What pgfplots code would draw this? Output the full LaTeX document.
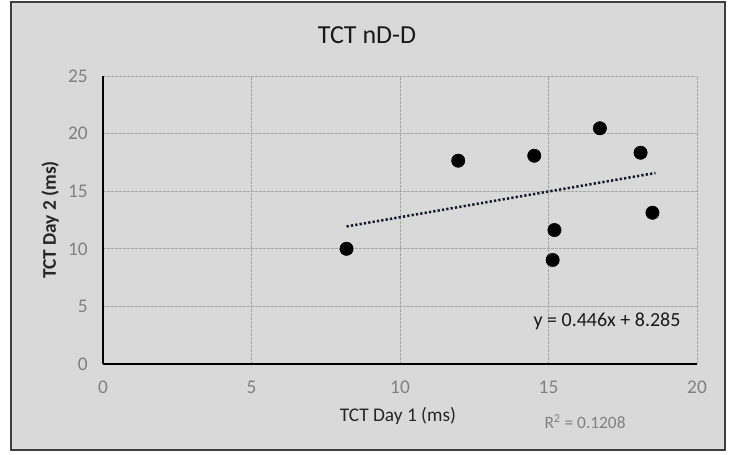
\documentclass[border=0pt]{standalone}
\usepackage{pgfplots}
\pgfplotsset{compat=1.18}
\usepackage{fontspec}
\setmainfont{Carlito}

\definecolor{panel}{HTML}{D9D9D9}
\definecolor{frame}{HTML}{3F3F3F}
\definecolor{gridc}{HTML}{A6A6A6}
\definecolor{tickc}{HTML}{808080}
\definecolor{trend}{HTML}{151B2E}

\begin{document}
\begin{tikzpicture}
% 1px = 0.75pt, image 734x454
\path[use as bounding box] (0,0) rectangle (550.5pt,340.5pt);
\draw[frame, line width=1.6pt, fill=panel] (8.25pt,3pt) rectangle (543.75pt,339pt);

\begin{axis}[
scale only axis,
width=445.5pt, height=216pt,
at={(77.25pt,67.5pt)}, anchor=south west,
xmin=0, xmax=20, ymin=0, ymax=25,
xtick={0,5,...,20}, ytick={0,5,...,25},
axis lines=left,
axis line style={-, black, line width=1.5pt},
major tick length=0pt,
grid=major,
major grid style={gridc, line width=0.7pt, dash pattern=on 2pt off 1pt},
tick label style={tickc, font=\fontsize{14.5}{16}\selectfont},
/pgf/number format/assume math mode=true,
xticklabel style={yshift=-9pt},
yticklabel style={xshift=-8pt},
clip=false
]

% data points
\addplot[only marks, mark=*, mark size=5pt, black] coordinates {
(8.2,10.0) (11.96,17.65) (14.52,18.08) (16.73,20.46)
(18.1,18.34) (18.5,13.13) (15.2,11.63) (15.14,9.03)
};

% linear trend line (y = 0.446x + 8.285)
\addplot[trend, line width=1.9pt, dash pattern=on 1.7pt off 1.6pt] coordinates {
(8.2,11.94) (18.6,16.58)
};

\node[font=\fontsize{19.5}{22}\selectfont, color=black!90] at (axis cs:8.89,28.56) {TCT nD-D};
\node[font=\fontsize{14.5}{17}\selectfont, color=black!85] at (axis cs:9.93,-4.51) {TCT Day 1 (ms)};
\node[font=\bfseries\fontsize{14.5}{17}\selectfont, color=black!85, rotate=90] at (axis cs:-1.78,12.5) {TCT Day 2 (ms)};
\node[font=\fontsize{15}{17}\selectfont, color=black!90] at (axis cs:16.97,3.67) {y = 0.446x + 8.285};
\node[font=\fontsize{13}{15}\selectfont, tickc] at (axis cs:16.23,-5.03) {R\textsuperscript{2} = 0.1208};

\end{axis}
\end{tikzpicture}
\end{document}
